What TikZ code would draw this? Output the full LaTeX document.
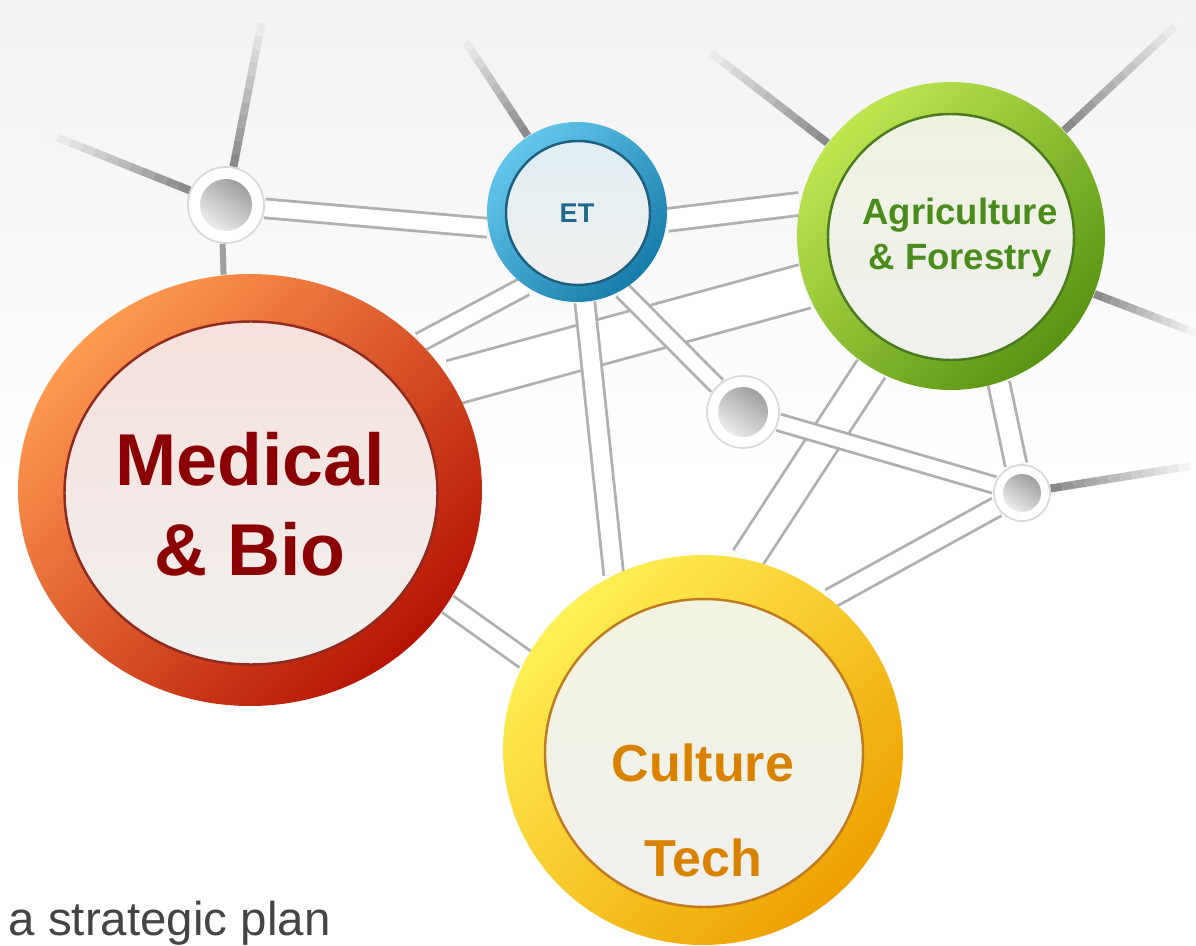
\documentclass[tikz,border=0pt]{standalone}
\usepackage{fontspec}
\setmainfont{Liberation Sans}
\usetikzlibrary{calc,shapes.geometric}
\pgfdeclarelayer{back}
\pgfdeclarelayer{tubes}
\pgfsetlayers{back,tubes,main}
% couleurs
\definecolor{medA}{HTML}{FF9A50}
\definecolor{medB}{HTML}{F22C02}
\definecolor{medC}{HTML}{B51404}
\definecolor{medD}{HTML}{F6E0DC}
\definecolor{medE}{HTML}{8F2A20}
\definecolor{medT}{HTML}{8B0000}
\definecolor{etA}{HTML}{62C6EC}
\definecolor{etB}{HTML}{2A9FD0}
\definecolor{etC}{HTML}{177DAA}
\definecolor{etD}{HTML}{E0EEF4}
\definecolor{etE}{HTML}{1E5F80}
\definecolor{etT}{HTML}{1D6A8F}
\definecolor{agrA}{HTML}{BEE650}
\definecolor{agrB}{HTML}{88C220}
\definecolor{agrC}{HTML}{579412}
\definecolor{agrD}{HTML}{EEF3E0}
\definecolor{agrE}{HTML}{4A7A20}
\definecolor{agrT}{HTML}{4A8C1C}
\definecolor{culA}{HTML}{FFF055}
\definecolor{culB}{HTML}{FFD500}
\definecolor{culC}{HTML}{EEA000}
\definecolor{culD}{HTML}{F2F4E0}
\definecolor{culE}{HTML}{C07A20}
\definecolor{culT}{HTML}{D98200}
\definecolor{discgray}{HTML}{F0F0EE}
\definecolor{plaingray}{HTML}{444444}
\newcommand\fadespoke[2]{%
  \foreach \k [evaluate=\k as \fa using \k/12,
               evaluate=\k as \fb using (\k+1)/12,
               evaluate=\k as \c using int(92-7.5*\k)] in {0,...,11}
    \draw[line width=0.8mm, draw=gray!\c] ($(#1)!\fa!(#2)$) -- ($(#1)!\fb!(#2)$);}
\begin{document}
\begin{tikzpicture}[x=0.1mm, y=-0.1mm,
  ring/.style={ellipse, inner sep=0pt},
  disc/.style={ellipse, inner sep=0pt, line width=0.7pt},
  knot/.style={circle, inner sep=0pt, fill=white, draw=gray!30, line width=0.5pt},
  ball/.style={circle, inner sep=0pt, left color=gray!75, right color=gray!15, shading angle=-35},
  tube/.style={draw=gray!62, double=white, double distance=#1, line width=0.8pt},
  stub/.style={draw=gray!75, line width=0.6mm},
  lab/.style={align=center, inner sep=0pt}]
\useasboundingbox (0,0) rectangle (1196,946);
\begin{pgfonlayer}{back}
  \fill[white] (0,0) rectangle (1196,946);
  \shade[top color=gray!10, bottom color=white] (0,0) rectangle (1196,480);
\end{pgfonlayer}
% les anneaux
\node[ring, minimum width=46.4mm, minimum height=43.2mm,
  top color=medA, middle color=medB, bottom color=medC, shading angle=45] (med) at (250,490) {};
\node[disc, minimum width=37.3mm, minimum height=34.3mm, draw=medE,
  top color=medD, bottom color=discgray] (medin) at (251,493) {};
\node[ring, minimum width=18mm, minimum height=18mm,
  top color=etA, middle color=etB, bottom color=etC, shading angle=45] (et) at (577,212) {};
\node[disc, minimum width=14.4mm, minimum height=14.4mm, draw=etE,
  top color=etD, bottom color=discgray] (etin) at (578,213) {};
\node[ring, minimum width=30.8mm, minimum height=30.8mm,
  top color=agrA, middle color=agrB, bottom color=agrC, shading angle=45] (agr) at (951,236) {};
\node[disc, minimum width=24.6mm, minimum height=24.6mm, draw=agrE,
  top color=agrD, bottom color=discgray] (agrin) at (951,237) {};
\node[ring, minimum width=40mm, minimum height=39mm,
  top color=culA, middle color=culB, bottom color=culC, shading angle=45] (cul) at (703,750) {};
\node[disc, minimum width=31.8mm, minimum height=30.8mm, draw=culE,
  top color=culD, bottom color=discgray] (culin) at (704,753) {};
% les noeuds
\node[knot, minimum size=7.6mm] (ja) at (226,205) {};
\node[ball, minimum size=5.2mm] (jaball) at (ja) {};
\node[knot, minimum size=7.2mm] (jb) at (743,412) {};
\node[ball, minimum size=5mm] (jbball) at (jb) {};
\node[knot, minimum size=5.6mm] (jc) at (1022,493) {};
\node[ball, minimum size=3.8mm] (jcball) at (jc) {};
\coordinate (jaup) at (264,10);
\coordinate (jaleft) at (46,133);
\coordinate (etup) at (460,33);
\coordinate (agrup) at (701,45);
\coordinate (agrne) at (1185,17);
\coordinate (agrright) at (1196,333);
\coordinate (jcright) at (1190,466);
\begin{pgfonlayer}{tubes}
  \fadespoke{ja.79}{jaup}
  \fadespoke{ja.158}{jaleft}
  \fadespoke{et.123}{etup}
  \fadespoke{agr.143}{agrup}
  \fadespoke{agr.43}{agrne}
  \fadespoke{agr.-22}{agrright}
  \fadespoke{jc.9}{jcright}
  \draw[stub] (ja.-95) -- (med.97);
  \draw[tube=1.6mm] (ja) -- (et.190);
  \draw[tube=1.6mm] (et.235) -- (med.41);
  \draw[tube=4.2mm] (med.28) -- (agr.199);
  \draw[tube=2mm] (et.-5) -- (agr.168);
  \draw[tube=1.7mm] (et.-85) -- (cul.117);
  \draw[tube=1.4mm] (et.-60) -- (jb);
  \draw[tube=3mm] (agr.239) -- (cul.77);
  \draw[tube=1.9mm] (agr.-72) -- (jc);
  \draw[tube=1.4mm] (jb) -- (jc);
  \draw[tube=1.7mm] (jc) -- (cul.50);
  \draw[tube=1.7mm] (med.-30) -- (cul.153);
\end{pgfonlayer}
% les textes
\node[lab, text=etT, font=\fontsize{7.7}{9}\selectfont\bfseries] (ettext) at (577,213) {ET};
\node[lab, text=agrT, font=\fontsize{10.4}{12.8}\selectfont\bfseries] (agrtext) at (960,238) {Agriculture\\\& Forestry};
\node[lab, text=medT, font=\fontsize{20.9}{25.6}\selectfont\bfseries] (medtext) at (250,504) {Medical\\\& Bio};
\node[lab, text=culT, font=\fontsize{14.8}{27}\selectfont\bfseries] (cultext) at (703,810) {Culture\\Tech};
\node[anchor=base west, inner sep=0pt, text=plaingray, font=\fontsize{13.5}{16}\selectfont] (caption) at (8,935) {a strategic plan};
\end{tikzpicture}
\end{document}
